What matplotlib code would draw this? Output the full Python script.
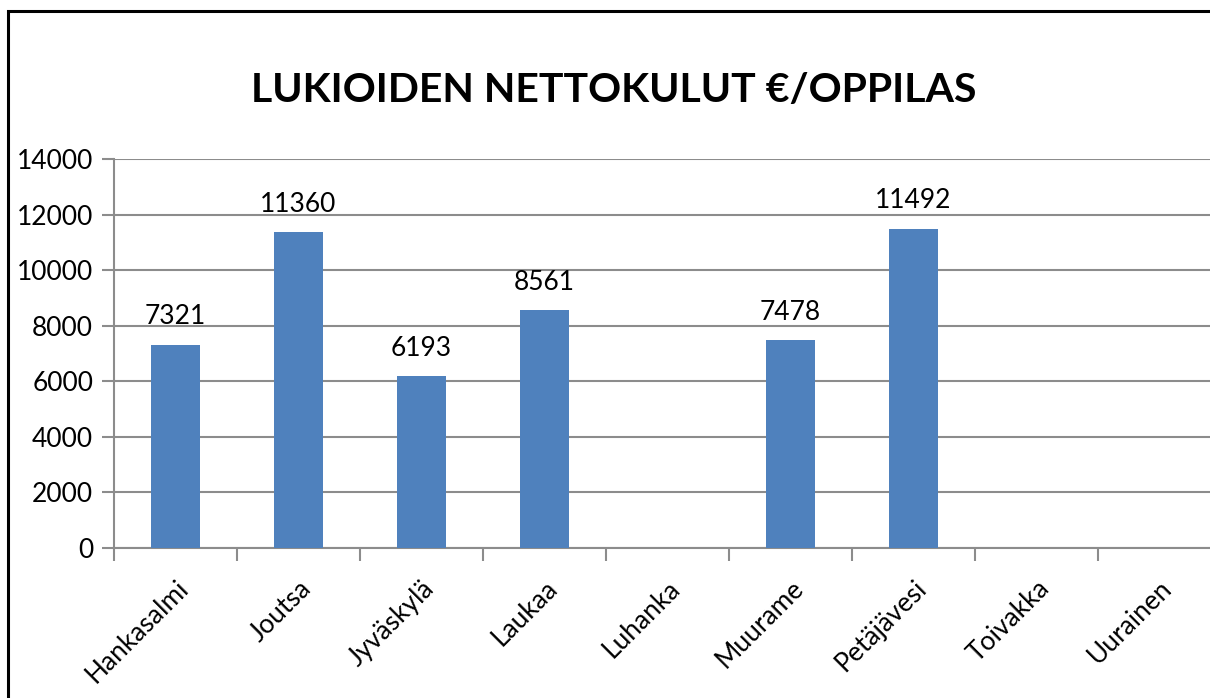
import numpy as np
import matplotlib.pyplot as plt
from matplotlib.patches import Rectangle

# Data
kunnat = ['Hankasalmi', 'Joutsa', 'Jyväskylä', 'Laukaa', 'Luhanka',
          'Muurame', 'Petäjävesi', 'Toivakka', 'Uurainen']
kulut = [7321, 11360, 6193, 8561, np.nan, 7478, 11492, np.nan, np.nan]
y_ticks = [0, 2000, 4000, 6000, 8000, 10000, 12000, 14000]

plt.rcParams['font.family'] = ['Lato', 'DejaVu Sans']

fig = plt.figure(figsize=(12.1, 6.98), dpi=100)
# axes runs past the right edge, as in the original
ax = fig.add_axes([0.0942, 0.2149, 0.915, 0.5573])

x = np.arange(len(kunnat))
bars = ax.bar(x, kulut, width=0.4, color='#4F81BD', zorder=3)

for xi, v in zip(x, kulut):
    if not np.isnan(v):
        ax.text(xi, v + 550, f'{int(v)}', ha='center', va='bottom', fontsize=19)

ax.set_xlim(-0.5, len(kunnat) - 0.5)
ax.set_ylim(0, 14000)
ax.set_yticks(y_ticks)
ax.set_yticklabels([str(t) for t in y_ticks], fontsize=19)
ax.yaxis.grid(True, color='#8c8c8c', linewidth=1.5, zorder=0)

# category labels at centres, tick marks at boundaries
ax.set_xticks(x)
ax.set_xticklabels(kunnat, rotation=45, ha='right', rotation_mode='anchor', fontsize=19)
ax.set_xticks(np.arange(-0.5, len(kunnat)), minor=True)
ax.tick_params(axis='x', which='major', length=0, pad=20)
ax.tick_params(axis='x', which='minor', length=9, width=1.5, color='#8c8c8c')
ax.tick_params(axis='y', length=9, width=1.5, color='#8c8c8c', pad=6)

for s in ['top', 'right']:
    ax.spines[s].set_visible(False)
for s in ['left', 'bottom']:
    ax.spines[s].set_color('#8c8c8c')
    ax.spines[s].set_linewidth(1.5)

fig.text(0.507, 0.87, 'LUKIOIDEN NETTOKULUT €/OPPILAS', ha='center', va='center',
         fontsize=29.5, fontweight='bold')

# outer chart frame
fig.patches.append(Rectangle((8 / 1210, -0.1), 1.2, 1.1 - 11 / 698, transform=fig.transFigure,
                             fill=False, edgecolor='black', linewidth=2.2))

fig.savefig('out.png', dpi=100)
